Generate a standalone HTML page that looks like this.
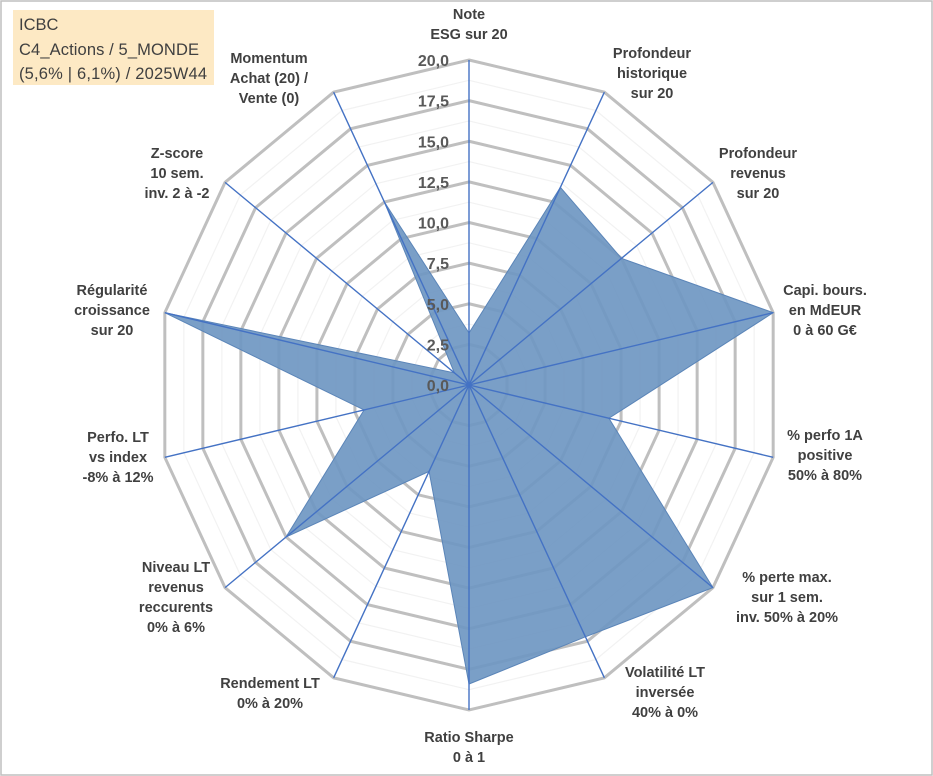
<!DOCTYPE html>
<html><head><meta charset="utf-8">
<style>
body{margin:0;background:#fff;}
#wrap{position:relative;width:933px;height:776px;overflow:hidden;}
svg text{font-family:"Liberation Sans",sans-serif;}
</style></head>
<body>
<div id="wrap">
<svg id="chart" width="933" height="776">
<rect x="1" y="1" width="931" height="774" fill="#fff" stroke="#bfbfbf" stroke-width="1.5"/>
<rect x="13" y="10" width="201" height="75" fill="#fde9c4"/>
<text x="19" y="30" font-size="16.5" fill="#404040">ICBC</text>
<text x="19" y="55" font-size="16.5" fill="#404040" textLength="180">C4_Actions / 5_MONDE</text>
<text x="19" y="79" font-size="16.5" fill="#404040" textLength="188">(5,6% | 6,1%) / 2025W44</text>
<g id="grid"></g><g id="series"></g><g id="axes"></g><g id="ticks"></g><g id="labels"></g>
</svg>
</div>
<script>
const categories=[["Note","ESG sur 20"],["Profondeur","historique","sur 20"],["Profondeur","revenus","sur 20"],["Capi. bours.","en MdEUR","0 à 60 G€"],["% perfo 1A","positive","50% à 80%"],["% perte max.","sur 1 sem.","inv. 50% à 20%"],["Volatilité LT","inversée","40% à 0%"],["Ratio Sharpe","0 à 1"],["Rendement LT","0% à 20%"],["Niveau LT","revenus","reccurents","0% à 6%"],["Perfo. LT","vs index","-8% à 12%"],["Régularité","croissance","sur 20"],["Z-score","10 sem.","inv. 2 à -2"],["Momentum","Achat (20) /","Vente (0)"]];
const values=[3.2,13.5,12.5,20,9.2,20,17.2,18.4,5.9,15,6.9,20,1.2,12.5];
const tickLabels=["0,0","2,5","5,0","7,5","10,0","12,5","15,0","17,5","20,0"];
const labelPos=[[469,19],[652,58],[758,158],[825,295],[825,440],[787,582],[665,677],[469,742],[270,688],[176,572],[118,442],[112,295],[177,158],[269,63]];
const cx=469,cy=385,RX=312,RY=325,MAX=20,N=categories.length;
const NS="http://www.w3.org/2000/svg";
function pt(i,v){const a=i*2*Math.PI/N;return [cx+Math.sin(a)*RX*v/MAX, cy-Math.cos(a)*RY*v/MAX];}
function mk(tag,attrs,parent){const e=document.createElementNS(NS,tag);for(const k in attrs)e.setAttribute(k,attrs[k]);document.getElementById(parent).appendChild(e);return e;}
for(let s=1;s<=16;s++){const v=s*1.25;const p=[];for(let i=0;i<N;i++)p.push(pt(i,v).join(','));
 const major=s%2===0;
 const e=mk('polygon',{points:p.join(' '),fill:'none',stroke:major?'#bfbfbf':'#f2f2f2','stroke-width':major?3:1.2},'grid');
 
 }
{const p=values.map((v,i)=>pt(i,v).join(','));
 const e=mk('polygon',{points:p.join(' '),fill:'#6f97c2','fill-opacity':'0.92',stroke:'#5b85b8','stroke-width':1},'series');
 
 }
for(let i=0;i<N;i++){const [x,y]=pt(i,MAX);
 const e=mk('line',{x1:cx,y1:cy,x2:x,y2:y,stroke:'#4472c4','stroke-width':1.4},'axes');
 
 }
tickLabels.forEach((t,k)=>{const v=k*2.5;const y=cy-RY*v/MAX;
 const e=mk('text',{x:449,y:y+6,'text-anchor':'end','font-size':16,'font-weight':'bold',fill:'#595959'},'ticks');
 e.textContent=t;
 
 });
categories.forEach((c,i)=>{const [x,y]=labelPos[i];
 const e=mk('text',{'text-anchor':'middle','font-size':14.5,'font-weight':'bold',fill:'#404040'},'labels');
 
 
 c.forEach((ln,j)=>{const s=document.createElementNS(NS,'tspan');s.setAttribute('x',x);s.setAttribute('y',y+j*20);s.textContent=ln;e.appendChild(s);});});
</script>
</body></html>
